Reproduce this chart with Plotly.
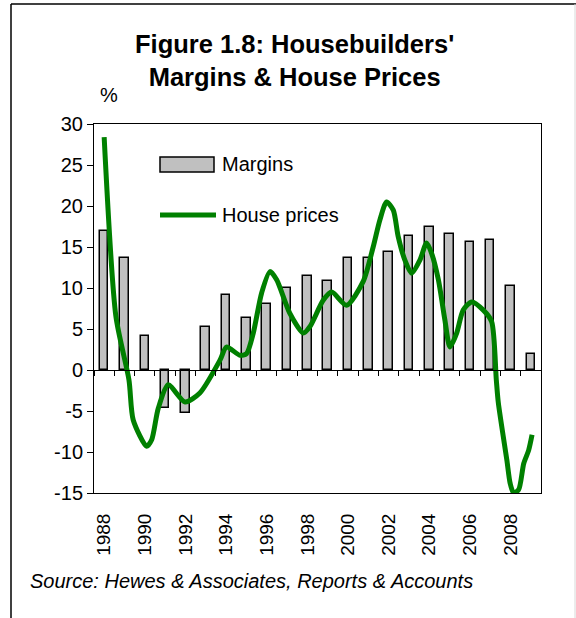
import plotly.graph_objects as go

# Margins: annual bars
years = list(range(1988, 2010))
margins = [16.9, 13.7, 4.2, -4.6, -5.3, 5.2, 9.1, 6.4, 8.1, 10.0, 11.5,
           10.8, 13.7, 13.7, 14.4, 16.3, 17.4, 16.6, 15.6, 15.9, 10.3, 2.0]

# House prices: annual % change
hp_time = [1988.0, 1988.58, 1989.22, 1989.43, 1990.09, 1990.34, 1990.66, 1991.15,
           1991.98, 1992.71, 1993.70, 1994.02, 1994.68, 1995.01, 1995.34, 1995.75,
           1996.16, 1996.49, 1997.14, 1997.80, 1998.13, 1998.78, 1999.20, 1999.93,
           2000.75, 2001.24, 2001.57, 2001.90, 2002.23, 2002.47, 2002.80, 2003.13,
           2003.54, 2003.87, 2004.12, 2004.45, 2004.77, 2005.02, 2005.35, 2005.67,
           2006.09, 2006.66, 2007.07, 2007.30, 2007.40, 2007.82, 2007.98, 2008.15,
           2008.40, 2008.65, 2008.89, 2009.06]
hp_vals = [28.4, 6.5, -1.2, -6.1, -9.3, -8.5, -4.7, -1.8,
           -3.9, -2.8, 1.2, 2.8, 1.8, 2.0, 4.5, 9.4,
           12.0, 11.0, 6.9, 4.5, 5.3, 8.5, 9.5, 7.9,
           10.8, 15.0, 18.3, 20.5, 19.5, 16.3, 13.4, 11.8,
           13.4, 15.5, 14.2, 11.0, 6.1, 2.8, 4.5, 7.3,
           8.3, 7.3, 5.9, -1.2, -4.0, -11.0, -13.8, -15.0,
           -14.6, -11.4, -9.8, -7.9]

label_years = list(range(1988, 2010, 2))
boundaries = [y + 0.5 for y in range(1987, 2010)]
y_ticks = list(range(-15, 31, 5))
y_ticktext = [str(v) for v in y_ticks]  # plain hyphen minus, as in the original

names = ["Margins", "House prices"]
title = "Figure 1.8: Housebuilders'<br>Margins & House Prices"
source = "Source: Hewes & Associates, Reports & Accounts"

FONT = "Liberation Sans, Arial, sans-serif"
GREEN = "#008000"

# plot-area pixel geometry (576x618 page)
L, R, T, B = 94, 541, 124, 493
W, H = R - L, B - T


def px(x):
    return (x - L) / W


def py(y):
    return (B - y) / H


fig = go.Figure()
fig.add_trace(go.Bar(
    x=years, y=margins, width=0.42, name=names[0],
    marker=dict(color="#c0c0c0", line=dict(color="black", width=1.5)),
    xaxis="x", yaxis="y", showlegend=False,
))
fig.add_trace(go.Scatter(
    x=hp_time, y=hp_vals, mode="lines", name=names[1],
    line=dict(color=GREEN, width=5, shape="spline", smoothing=0.7),
    xaxis="x2", yaxis="y", showlegend=False,
))

shapes = [
    # outer chart frame
    dict(type="line", xref="paper", yref="paper", x0=px(11), x1=px(11), y0=py(4), y1=py(618),
         line=dict(color="black", width=1.5)),
    dict(type="line", xref="paper", yref="paper", x0=px(11), x1=px(576), y0=py(4), y1=py(4),
         line=dict(color="black", width=1.5)),
    dict(type="line", xref="paper", yref="paper", x0=px(575), x1=px(575), y0=py(4), y1=py(618),
         line=dict(color="#d8d8d8", width=1)),
    # legend symbols
    dict(type="rect", xref="paper", yref="paper", x0=px(160), x1=px(214), y0=py(157), y1=py(172),
         fillcolor="#c0c0c0", line=dict(color="black", width=1.5)),
    dict(type="line", xref="paper", yref="paper", x0=px(160), x1=px(216), y0=py(215), y1=py(215),
         line=dict(color=GREEN, width=5)),
]

annotations = [
    dict(text="<b>" + title + "</b>", xref="paper", yref="paper", x=px(294), y=py(28),
         xanchor="center", yanchor="top", showarrow=False,
         font=dict(family=FONT, size=25.5, color="black")),
    dict(text=names[0], xref="paper", yref="paper", x=px(220), y=py(164), xanchor="left",
         yanchor="middle", showarrow=False, font=dict(family=FONT, size=20, color="black")),
    dict(text=names[1], xref="paper", yref="paper", x=px(220), y=py(215), xanchor="left",
         yanchor="middle", showarrow=False, font=dict(family=FONT, size=20, color="black")),
    dict(text="%", xref="paper", yref="paper", x=px(109), y=py(95), xanchor="center",
         yanchor="middle", showarrow=False, font=dict(family=FONT, size=20, color="black")),
    dict(text="<i>" + source + "</i>", xref="paper", yref="paper", x=px(28), y=py(581),
         xanchor="left", yanchor="middle", showarrow=False,
         font=dict(family=FONT, size=20, color="black")),
]

fig.update_layout(
    width=576, height=618,
    margin=dict(l=L, r=576 - R, t=T, b=618 - B),
    paper_bgcolor="white", plot_bgcolor="white",
    font=dict(family=FONT, size=20, color="black"),
    showlegend=False,
    bargap=0,
    yaxis=dict(range=[-15, 30], tickvals=y_ticks, ticktext=y_ticktext, ticks="outside",
               ticklen=6, tickcolor="black", showline=True, linecolor="black", linewidth=1,
               mirror=True, showgrid=False, zeroline=False,
               tickfont=dict(family=FONT, size=20)),
    xaxis=dict(range=[1987.5, 2009.5], anchor="free", position=1 / 3,
               tickvals=boundaries, ticks="outside", ticklen=5, tickcolor="black",
               showticklabels=False, showline=True, linecolor="black", linewidth=1,
               showgrid=False, zeroline=False),
    xaxis2=dict(range=[1987.5, 2009.5], overlaying="x", anchor="y", side="bottom",
                tickvals=label_years, ticktext=[str(y) for y in label_years],
                tickangle=-90, ticks="", ticklabelstandoff=12,
                showline=True, linecolor="black", linewidth=1, mirror=True,
                showgrid=False, zeroline=False, tickfont=dict(family=FONT, size=19)),
    shapes=shapes,
    annotations=annotations,
)

# the page's default 8px body margin would shift the whole chart
fig.write_html("out.html", config={"displayModeBar": False},
               post_script="document.body.style.margin='0px';")
